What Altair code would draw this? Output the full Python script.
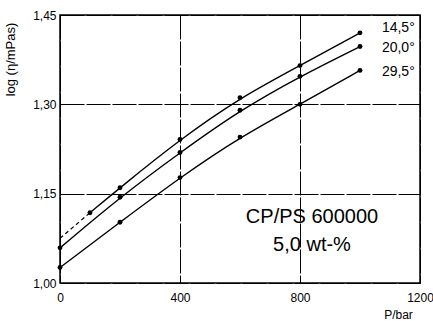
import altair as alt
import pandas as pd

pressures = [0, 200, 400, 600, 800, 1000]
p_145 = [100, 200, 400, 600, 800, 1000]
v_145 = [1.118, 1.160, 1.241, 1.311, 1.365, 1.420]
v_200 = [1.059, 1.144, 1.219, 1.290, 1.347, 1.397]
v_295 = [1.026, 1.102, 1.177, 1.245, 1.300, 1.357]
ext_p = [0, 100]
ext_v = [1.075, 1.118]

labels = ["14,5°", "20,0°", "29,5°"]
label_y = [1.429, 1.395, 1.354]
label_x = 1073
note_lines = ["CP/PS 600000", "5,0 wt-%"]
note_y = [1.111, 1.064]
note_x = 840

rows = []
for p, v in zip(p_145, v_145):
    rows.append({"P": p, "v": v, "s": "14,5°"})
for p, v in zip(pressures, v_200):
    rows.append({"P": p, "v": v, "s": "20,0°"})
for p, v in zip(pressures, v_295):
    rows.append({"P": p, "v": v, "s": "29,5°"})
df = pd.DataFrame(rows)
ext = pd.DataFrame({"P": ext_p, "v": ext_v})
lab = pd.DataFrame({"t": labels, "y": label_y, "x": [label_x] * 3})
note = pd.DataFrame({"t": note_lines, "y": note_y, "x": [note_x] * 2})

FONT = "Liberation Sans"
lbl = "replace(format(datum.value, '.2f'), '.', ',')"

xs = alt.Scale(domain=[0, 1200], nice=False)
ys = alt.Scale(domain=[1.0, 1.45], nice=False, zero=False)

xax = alt.Axis(values=[0, 400, 800, 1200], grid=True, ticks=False, domain=False,
               format="d",
               labelPadding=9, labelFontSize=12, labelFont=FONT, labelColor="black",
               labelFlush=False,
               title="P/bar", titleFont=FONT, titleFontSize=12, titleFontWeight="normal",
               titleX=338, titleY=26, titleAlign="center", titleBaseline="top",
               gridColor="black", gridDash=[24, 2], gridWidth=1, gridOpacity=1)
yax = alt.Axis(values=[1.0, 1.15, 1.30, 1.45], grid=True, ticks=False, domain=False,
               labelExpr=lbl, labelPadding=4, labelFontSize=12, labelFont=FONT,
               labelColor="black", labelFlush=False,
               title="log (η/mPas)", titleFont=FONT, titleFontSize=13, titleFontWeight="normal",
               titleX=-50, titleY=44, titleAlign="center", titleBaseline="middle",
               gridColor="black", gridDash=[24, 2], gridWidth=1, gridOpacity=1)

base = alt.Chart(df)
lines = base.mark_line(color="black", strokeWidth=1.4, interpolate="basis").encode(
    x=alt.X("P:Q", scale=xs, axis=xax),
    y=alt.Y("v:Q", scale=ys, axis=yax),
    detail="s:N",
)
pts = base.mark_circle(color="black", size=24, opacity=1).encode(
    x=alt.X("P:Q", scale=xs), y=alt.Y("v:Q", scale=ys)
)
dash = alt.Chart(ext).mark_line(color="black", strokeWidth=1.2, strokeDash=[4, 3]).encode(
    x=alt.X("P:Q", scale=xs), y=alt.Y("v:Q", scale=ys)
)
labt = alt.Chart(lab).mark_text(align="left", baseline="middle", fontSize=14, font=FONT,
                                color="black").encode(
    x=alt.X("x:Q", scale=xs), y=alt.Y("y:Q", scale=ys), text="t:N"
)
notet = alt.Chart(note).mark_text(align="center", baseline="middle", fontSize=20, font=FONT,
                                  color="black").encode(
    x=alt.X("x:Q", scale=xs), y=alt.Y("y:Q", scale=ys), text="t:N"
)

chart = alt.layer(lines, dash, pts, labt, notet).properties(
    width=360, height=268,
    autosize=alt.AutoSizeParams(type="none"),
    padding={"left": 60, "top": 15, "right": 13, "bottom": 38},
    background="white",
).configure_view(stroke="black", strokeWidth=1.5)

chart.save("out.html", embed_options={"renderer": "svg", "actions": False})
